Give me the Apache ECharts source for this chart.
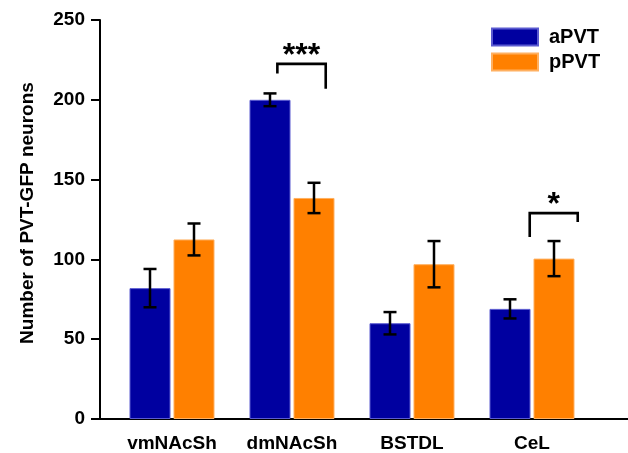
<!DOCTYPE html>
<html>
<head>
<meta charset="utf-8">
<script src="https://cdn.jsdelivr.net/npm/echarts@6/dist/echarts.min.js"></script>
<style>
  html, body { margin: 0; padding: 0; background: #fff; }
  #main { width: 628px; height: 453px; }
</style>
</head>
<body>
<div id="main"></div>
<script>
const regions = ['vmNAcSh', 'dmNAcSh', 'BSTDL', 'CeL'];
const aPVT = [82, 200, 60, 69];
const aPVTerr = [12, 4, 7, 6];
const pPVT = [112.5, 138.5, 97, 100.5];
const pPVTerr = [10, 9.5, 14.5, 11];
const yTicks = [0, 50, 100, 150, 200, 250];

// significance brackets: [xLeft, xRight, yTop, yLeftEnd, yRightEnd, label]  (x in category units)
const brackets = [
  [1.378, 1.781, 222.5, 216.5, 207, '***'],
  [3.481, 3.881, 129, 114, 123.5, '*']
];

const BAR_W = 41;
const BAR_STEP = 44;

function errorSeries(name, values, errs, slot) {
  return {
    name: name + ' err',
    type: 'custom',
    xAxisIndex: 0,
    yAxisIndex: 0,
    z: 5,
    data: values.map((v, i) => [i, v - errs[i], v + errs[i]]),
    renderItem: function (params, api) {
      const lo = api.coord([api.value(0), api.value(1)]);
      const hi = api.coord([api.value(0), api.value(2)]);
      const x = lo[0] + slot * BAR_STEP / 2;
      const cap = 6.5;
      const st = { stroke: '#000', lineWidth: 2.5 };
      return {
        type: 'group',
        children: [
          { type: 'line', shape: { x1: x, y1: lo[1], x2: x, y2: hi[1] }, style: st },
          { type: 'line', shape: { x1: x - cap, y1: lo[1], x2: x + cap, y2: lo[1] }, style: st },
          { type: 'line', shape: { x1: x - cap, y1: hi[1], x2: x + cap, y2: hi[1] }, style: st }
        ]
      };
    }
  };
}

const chart = echarts.init(document.getElementById('main'));
const bold = { fontFamily: 'Liberation Sans, Arial, sans-serif', fontWeight: 'bold', color: '#000' };

chart.setOption({
  animation: false,
  backgroundColor: '#fff',
  legend: {
    orient: 'vertical',
    left: 491,
    top: 27,
    padding: 0,
    icon: 'rect',
    itemWidth: 46,
    itemHeight: 17,
    itemGap: 5,
    data: ['aPVT', 'pPVT'],
    textStyle: Object.assign({ fontSize: 20, padding: [0, 0, 0, 6] }, bold)
  },
  grid: [
    { left: 112, width: 480, top: 20, bottom: 34 },
    { left: 100, right: 0, top: 20, bottom: 34 }
  ],
  xAxis: [
    {
      type: 'category',
      gridIndex: 0,
      data: regions,
      axisLine: { show: false },
      axisTick: { show: false },
      axisLabel: Object.assign({ fontSize: 19, margin: 15 }, bold)
    },
    {
      type: 'value',
      gridIndex: 0,
      min: 0,
      max: 4,
      show: false
    },
    {
      type: 'value',
      gridIndex: 1,
      min: 0,
      max: 1,
      axisLine: { show: true, lineStyle: { color: '#000', width: 2 } },
      axisTick: { show: false },
      axisLabel: { show: false },
      splitLine: { show: false }
    }
  ],
  yAxis: [
    {
      type: 'value',
      gridIndex: 0,
      min: yTicks[0],
      max: yTicks[yTicks.length - 1],
      show: false
    },
    {
      type: 'value',
      gridIndex: 1,
      min: yTicks[0],
      max: yTicks[yTicks.length - 1],
      interval: 50,
      name: 'Number of PVT-GFP neurons',
      nameLocation: 'middle',
      nameGap: 63,
      nameMoveOverlap: false,
      nameTextStyle: Object.assign({ fontSize: 19, padding: [0, 0, 0, 13] }, bold),
      axisLine: { show: true, lineStyle: { color: '#000', width: 2 } },
      axisTick: { show: true, length: 9, lineStyle: { color: '#000', width: 2 } },
      axisLabel: Object.assign({ fontSize: 19, margin: 15 }, bold),
      splitLine: { show: false }
    }
  ],
  series: [
    {
      name: 'aPVT',
      type: 'bar',
      xAxisIndex: 0,
      yAxisIndex: 0,
      data: aPVT,
      barWidth: BAR_W,
      barGap: '7.3%',
      itemStyle: { color: '#0000A0', borderColor: '#5a5ad0', borderWidth: 1 }
    },
    {
      name: 'pPVT',
      type: 'bar',
      xAxisIndex: 0,
      yAxisIndex: 0,
      data: pPVT,
      barWidth: BAR_W,
      barGap: '7.3%',
      itemStyle: { color: '#FF8000', borderColor: '#ffb060', borderWidth: 1 }
    },
    errorSeries('aPVT', aPVT, aPVTerr, -1),
    errorSeries('pPVT', pPVT, pPVTerr, 1),
    {
      name: 'sig',
      type: 'custom',
      xAxisIndex: 1,
      yAxisIndex: 0,
      z: 6,
      data: brackets,
      renderItem: function (params, api) {
        const tl = api.coord([api.value(0), api.value(2)]);
        const tr = api.coord([api.value(1), api.value(2)]);
        const bl = api.coord([api.value(0), api.value(3)]);
        const br = api.coord([api.value(1), api.value(4)]);
        const label = brackets[params.dataIndex][5];
        return {
          type: 'group',
          children: [
            {
              type: 'polyline',
              shape: { points: [bl, tl, tr, br] },
              style: { stroke: '#000', lineWidth: 2.6, fill: null }
            },
            {
              type: 'text',
              style: {
                text: label,
                x: (tl[0] + tr[0]) / 2,
                y: tl[1] - 24,
                align: 'center',
                verticalAlign: 'top',
                font: 'bold 32px "Liberation Sans", Arial, sans-serif',
                fill: '#000'
              }
            }
          ]
        };
      }
    }
  ]
});
</script>
</body>
</html>
